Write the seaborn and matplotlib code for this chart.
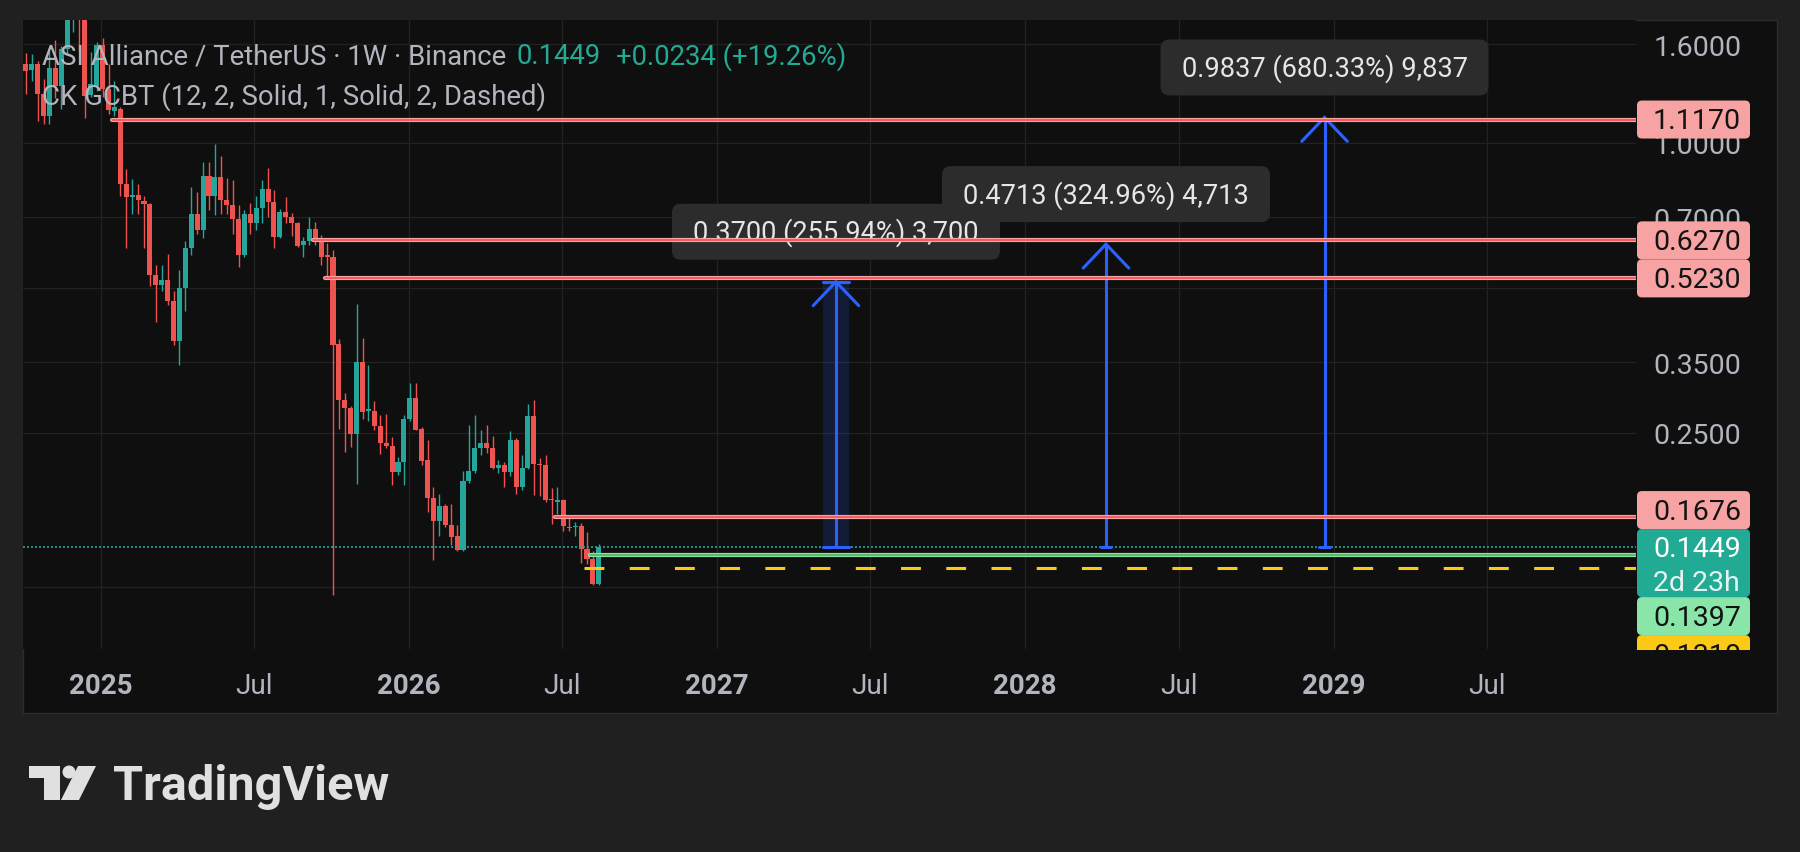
import numpy as np
import pandas as pd
import matplotlib
matplotlib.use("Agg")
import matplotlib.pyplot as plt
import matplotlib.dates as mdates
import matplotlib.transforms as mtransforms
from matplotlib.patches import FancyBboxPatch, Polygon, Circle, Rectangle
from matplotlib.ticker import NullLocator
import seaborn as sns

# ASI / USDT weekly candles
opens = [1.458, 1.412, 1.457, 1.264, 1.137, 1.431, 1.311, 1.561, 1.887, 2.030,
         1.930, 1.254, 1.314, 1.598, 1.290, 1.163, 1.174, 0.822, 0.772, 0.780,
         0.758, 0.747, 0.532, 0.507, 0.519, 0.470, 0.388, 0.499, 0.604, 0.713,
         0.659, 0.854, 0.777, 0.849, 0.761, 0.743, 0.696, 0.585, 0.713, 0.683,
         0.732, 0.803, 0.755, 0.636, 0.717, 0.702, 0.682, 0.613, 0.626, 0.661,
         0.624, 0.584, 0.580, 0.382, 0.292, 0.281, 0.249, 0.351, 0.278, 0.278,
         0.258, 0.238, 0.235, 0.207, 0.218, 0.267, 0.295, 0.255, 0.220, 0.183,
         0.1644, 0.176, 0.1611, 0.1529, 0.1426, 0.199, 0.208, 0.233, 0.238, 0.233,
         0.211, 0.214, 0.207, 0.242, 0.193, 0.211, 0.271, 0.215, 0.214, 0.182,
         0.180, 0.181, 0.1598, 0.1593, 0.1606, 0.1434, 0.1368, 0.1215]
highs = [1.536, 1.524, 1.476, 1.353, 1.574, 1.636, 1.585, 1.978, 2.175, 2.220,
         1.950, 1.539, 1.614, 1.651, 1.453, 1.340, 1.185, 0.883, 0.842, 0.822,
         0.777, 0.751, 0.558, 0.557, 0.587, 0.492, 0.545, 0.625, 0.810, 0.792,
         0.913, 0.914, 0.994, 0.940, 0.845, 0.835, 0.741, 0.725, 0.751, 0.777,
         0.838, 0.887, 0.797, 0.730, 0.771, 0.716, 0.686, 0.637, 0.700, 0.686,
         0.642, 0.618, 0.599, 0.392, 0.303, 0.284, 0.463, 0.393, 0.346, 0.291,
         0.272, 0.274, 0.245, 0.223, 0.272, 0.318, 0.317, 0.257, 0.242, 0.193,
         0.187, 0.178, 0.178, 0.1611, 0.208, 0.260, 0.272, 0.254, 0.260, 0.246,
         0.220, 0.218, 0.252, 0.244, 0.225, 0.287, 0.292, 0.222, 0.225, 0.192,
         0.193, 0.182, 0.1662, 0.1636, 0.1623, 0.1560, 0.1419, 0.1470]
lows = [1.264, 1.342, 1.110, 1.093, 1.093, 1.240, 1.174, 1.524, 1.700, 1.546,
        1.127, 1.242, 1.278, 1.242, 1.146, 1.135, 0.777, 0.604, 0.713, 0.713,
        0.604, 0.504, 0.425, 0.493, 0.461, 0.381, 0.346, 0.447, 0.584, 0.648,
        0.633, 0.724, 0.707, 0.713, 0.713, 0.648, 0.551, 0.580, 0.648, 0.659,
        0.680, 0.702, 0.604, 0.633, 0.680, 0.641, 0.609, 0.580, 0.613, 0.613,
        0.558, 0.524, 0.1155, 0.255, 0.228, 0.234, 0.196, 0.267, 0.265, 0.254,
        0.226, 0.233, 0.195, 0.204, 0.195, 0.265, 0.253, 0.214, 0.1715, 0.1360,
        0.1524, 0.1598, 0.1465, 0.1419, 0.1420, 0.197, 0.206, 0.225, 0.227, 0.2105,
        0.206, 0.193, 0.203, 0.187, 0.190, 0.210, 0.186, 0.185, 0.180, 0.1616,
        0.170, 0.1567, 0.1567, 0.1529, 0.1342, 0.1338, 0.1210, 0.1210]
closes = [1.407, 1.457, 1.264, 1.137, 1.431, 1.311, 1.561, 1.887, 2.030, 1.930,
          1.250, 1.321, 1.598, 1.290, 1.168, 1.185, 0.822, 0.772, 0.780, 0.759,
          0.747, 0.532, 0.507, 0.519, 0.470, 0.388, 0.499, 0.604, 0.713, 0.659,
          0.854, 0.777, 0.849, 0.759, 0.741, 0.696, 0.585, 0.713, 0.680, 0.732,
          0.803, 0.755, 0.636, 0.717, 0.700, 0.680, 0.611, 0.626, 0.661, 0.623,
          0.580, 0.580, 0.381, 0.292, 0.281, 0.249, 0.351, 0.276, 0.280, 0.258,
          0.238, 0.235, 0.207, 0.218, 0.267, 0.295, 0.254, 0.219, 0.183, 0.1644,
          0.176, 0.1611, 0.1519, 0.1426, 0.199, 0.208, 0.233, 0.238, 0.233, 0.211,
          0.214, 0.207, 0.242, 0.193, 0.211, 0.271, 0.215, 0.214, 0.181, 0.181,
          0.181, 0.1604, 0.1585, 0.1604, 0.1434, 0.1368, 0.1215, 0.1449]

last_price = 0.1449
level_prices = [1.1170, 0.6270, 0.5230, 0.1676]
level_start = [15, 49, 51, 90]
support_price, support_start = 0.1397, 96
dash_price, dash_start = 0.1310, 95

arrow_dates = ["2027-05-22", "2028-04-06", "2028-12-21"]
arrow_base = 0.1446
arrow_gain = [0.3700, 0.4713, 0.9837]
arrow_text = ["0.3700 (255.94%) 3,700", "0.4713 (324.96%) 4,713", "0.9837 (680.33%) 9,837"]

price_ticks = [1.6, 1.0, 0.7, 0.5, 0.35, 0.25, 0.12]
hidden_ticks = [0.5, 0.12]   # covered by the level labels on the price scale
time_ticks = ["2025-01-01", "2025-07-01", "2026-01-01", "2026-07-01", "2027-01-01",
              "2027-07-01", "2028-01-01", "2028-07-01", "2029-01-01", "2029-07-01"]
time_labels = ["2025", "Jul", "2026", "Jul", "2027", "Jul", "2028", "Jul", "2029", "Jul"]

# colours
OUTER = "#202020"
BG = "#0f0f0f"
GRID = "#222222"
RED = "#ef5350"
TEAL = "#26a69a"
BLUE = "#2962ff"
LVL_IN, LVL_OUT = "#f34848", "#f7a3a3"
GRN_IN, GRN_OUT = "#4caf50", "#8ae6a8"
YEL = "#fcc916"
AXTXT = "#b2b5be"

sns.set_theme(style="dark", rc={"axes.facecolor": BG, "figure.facecolor": OUTER,
                                "axes.grid": True, "grid.color": GRID})
plt.rcParams["font.family"] = ["Roboto", "DejaVu Sans"]

W, H = 1800, 853
ID = mtransforms.IdentityTransform()
fig = plt.figure(figsize=(18, 8.53), dpi=100)

# chart panel
fig.add_artist(Rectangle((23, H - 714), 1754, 693, transform=ID, fc=BG, ec="#2c2c2c",
                         lw=1, zorder=-1))

ax = fig.add_axes([23 / W, 1 - 650 / H, 1613 / W, 629 / H])
ax.set_facecolor(BG)
ax.set_yscale("log")

dates = pd.date_range(end="2026-08-14", periods=len(opens), freq="7D")
x = mdates.date2num(dates)
o, h, l, c = (np.array(v) for v in (opens, highs, lows, closes))
col = np.where(c >= o, TEAL, RED)
bot = np.minimum(o, c)
top = np.maximum(np.maximum(o, c), bot * 1.005)
ax.vlines(x, l, h, colors=col, lw=1.0, zorder=3)
ax.bar(x, top - bot, bottom=bot, width=6.0, color=col, linewidth=0, zorder=3)

x0 = mdates.date2num(pd.Timestamp("2025-01-01")) - 92.4
x1 = mdates.date2num(pd.Timestamp("2025-01-01")) + 1819.1

# last price dotted line
ax.axhline(last_price, color=TEAL, ls=(0, (1.2, 1.2)), lw=1.2, zorder=4)

# arrows (price range tools)
ax_ = mdates.date2num(pd.to_datetime(arrow_dates))
for i, (xa, g) in enumerate(zip(ax_, arrow_gain)):
    tip = arrow_base + g
    if i == 0:
        ax.fill_between([xa - 15, xa + 15], arrow_base, tip, color=BLUE, alpha=0.17,
                        lw=0, zorder=4)
        ax.plot([xa - 15, xa + 15], [tip, tip], color=BLUE, lw=2.2, zorder=5)
        ax.plot([xa - 15, xa + 15], [arrow_base, arrow_base], color=BLUE, lw=2.2, zorder=5)
    else:
        ax.plot([xa - 6, xa + 6], [arrow_base, arrow_base], color=BLUE, lw=2.2, zorder=5)
    ax.plot([xa, xa], [arrow_base, tip], color=BLUE, lw=2.2, solid_capstyle="butt", zorder=5)
    ax.plot([xa - 27, xa, xa + 27], [tip / 1.121, tip, tip / 1.121], color=BLUE, lw=2.2,
            solid_joinstyle="miter", zorder=5)

# indicator levels
for p, i0 in zip(level_prices, level_start):
    xs = [x[i0] - 3, x1]
    sns.lineplot(x=xs, y=[p, p], ax=ax, color=LVL_OUT, lw=3.0, zorder=6)
    sns.lineplot(x=xs, y=[p, p], ax=ax, color=LVL_IN, lw=1.1, zorder=7)
xs = [x[support_start] - 3, x1]
sns.lineplot(x=xs, y=[support_price] * 2, ax=ax, color=GRN_OUT, lw=3.0, zorder=6)
sns.lineplot(x=xs, y=[support_price] * 2, ax=ax, color=GRN_IN, lw=1.1, zorder=7)
ax.plot([x[dash_start] - 3, x1], [dash_price] * 2, color=YEL, lw=2.2,
        ls=(0, (6.5, 8.3)), zorder=6)

ax.set_xlim(x0, x1)
ax.set_ylim(0.08904, 1.797)
ax.set_xlabel("")
ax.set_ylabel("")
for s in ax.spines.values():
    s.set_visible(False)
ax.grid(True, color=GRID, lw=0.9)

ax.yaxis.tick_right()
ax.set_yticks(price_ticks)
ax.set_yticklabels(["" if v in hidden_ticks else f"{v:.4f}" for v in price_ticks])
ax.yaxis.set_minor_locator(NullLocator())
ax.tick_params(axis="y", which="both", length=0, pad=12.3, labelsize=20.5, labelcolor=AXTXT)
ax.set_xticks(mdates.date2num(pd.to_datetime(time_ticks)))
ax.set_xticklabels(time_labels)
ax.tick_params(axis="x", length=0, pad=16.5, labelsize=20, labelcolor=AXTXT)
for t in ax.get_xticklabels():
    if t.get_text() != "Jul":
        t.set_fontweight("bold")


def ypx(p):
    return H - ax.transData.transform((x0, p))[1]


def xpx(xv):
    return ax.transData.transform((xv, 1.0))[0]


# arrow label boxes (inside the axes so the level lines pass over them)
for xa, g, s in zip(ax_, arrow_gain, arrow_text):
    cx, cy = xpx(xa), ypx(arrow_base + g) - 50
    ax.add_patch(FancyBboxPatch((cx - 164, H - cy - 28), 328, 56, transform=ID,
                                boxstyle="round,pad=0,rounding_size=9", fc="#2c2c2c",
                                ec="none", zorder=5.5, clip_on=False))
    ax.text(cx, H - cy, s, transform=ID, ha="center", va="center", fontsize=19.6,
            color="#e6e6e6", zorder=5.6)

# price scale labels with stacking around the last price label
last_y = ypx(last_price)
last_top, last_bot = last_y - 18, last_y + 50
above = [(p, LVL_OUT) for p in level_prices]
below = [(support_price, GRN_OUT), (dash_price, YEL)]
boxes = []
lim = last_top
for p, fc in sorted(above):
    cy = min(ypx(p), lim - 19)
    boxes.append((cy, p, fc))
    lim = cy - 19
lim = last_bot
for p, fc in sorted(below, reverse=True):
    cy = max(ypx(p), lim + 19)
    boxes.append((cy, p, fc))
    lim = cy + 19

clip = mtransforms.Bbox.from_extents(1600, H - 651, 1800, H)
for cy, p, fc in boxes:
    b = FancyBboxPatch((1637, H - cy - 19), 113, 38, transform=ID,
                       boxstyle="round,pad=0,rounding_size=5", fc=fc, ec="none", zorder=5)
    fig.add_artist(b)
    t = fig.text(1653, H - cy - 1, f"{p:.4f}", transform=ID, ha="left", va="center",
                 fontsize=20.5, color="#131313", zorder=6)
    b.set_clip_box(clip)
    t.set_clip_box(clip)
    t.set_clip_on(True)

fig.add_artist(FancyBboxPatch((1637, H - last_bot), 113, last_bot - last_top, transform=ID,
                              boxstyle="round,pad=0,rounding_size=5", fc="#22ab94",
                              ec="none", zorder=5))
fig.text(1653, H - last_y - 1, f"{last_price:.4f}", transform=ID, ha="left", va="center",
         fontsize=20.5, color="white", zorder=6)
fig.text(1653, H - last_y - 35, "2d 23h", transform=ID, ha="left", va="center",
         fontsize=20.5, color="#e6f4f1", zorder=6)

# legend text
fig.text(42, H - 57, "ASI Alliance / TetherUS · 1W · Binance", transform=ID, va="center",
         fontsize=19.8, color=AXTXT, zorder=8)
fig.text(517, H - 57, f"{last_price:.4f}", transform=ID, va="center", fontsize=19.8,
         color="#22ab94", zorder=8)
fig.text(616, H - 57, "+0.0234 (+19.26%)", transform=ID, va="center", fontsize=19.8,
         color="#22ab94", zorder=8)
fig.text(42, H - 97, "CK GCBT (12, 2, Solid, 1, Solid, 2, Dashed)", transform=ID,
         va="center", fontsize=19.8, color=AXTXT, zorder=8)

# TradingView logo
LOGO = "#e0e0e0"
fig.add_artist(Polygon([(29, H - 767), (60, H - 767), (60, H - 801), (44, H - 801),
                        (44, H - 779), (29, H - 779)], closed=True, transform=ID,
                       fc=LOGO, ec="none"))
fig.add_artist(Circle((69, H - 773), 6.5, transform=ID, fc=LOGO, ec="none"))
fig.add_artist(Polygon([(78, H - 767), (96, H - 767), (79, H - 801), (61, H - 801)],
                       closed=True, transform=ID, fc=LOGO, ec="none"))
fig.text(113, H - 800, "TradingView", transform=ID, va="baseline", fontsize=35,
         fontweight="bold", color=LOGO)

fig.savefig("out.png", dpi=100, facecolor=OUTER)
